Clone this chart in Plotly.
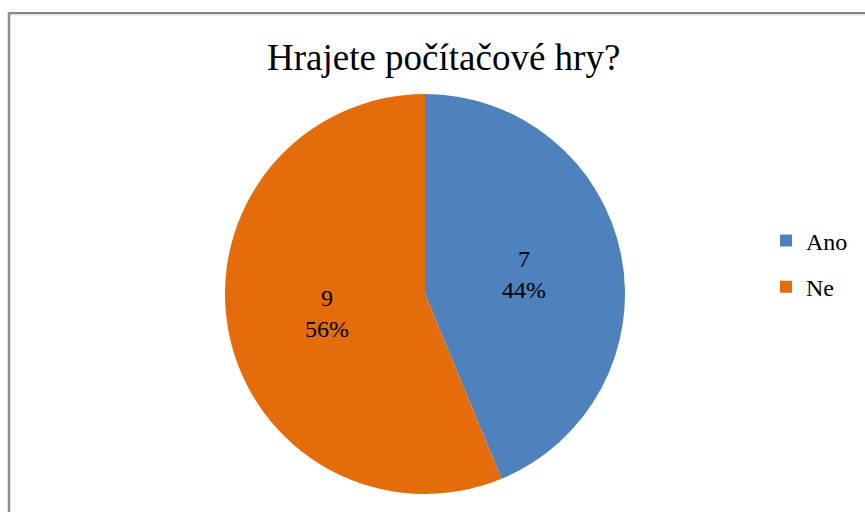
import plotly.graph_objects as go

# Survey answers: "Do you play computer games?"
labels = ["Ano", "Ne"]
counts = [7, 9]
colors = ["#4F81BD", "#E46C0A"]
title_text = "Hrajete počítačové hry?"

W, H = 865, 512
SERIF = "Liberation Serif"

fig = go.Figure()

fig.add_trace(go.Pie(
    labels=labels,
    values=counts,
    sort=False,
    direction="clockwise",
    rotation=0,
    marker=dict(colors=colors, line=dict(width=0)),
    texttemplate="%{value}<br>%{percent:.0%}",
    textposition="inside",
    insidetextorientation="horizontal",
    textfont=dict(family=SERIF, size=24, color="#000000"),
    showlegend=False,
    hoverinfo="label+value+percent",
    domain=dict(x=[225 / W, 625 / W], y=[(H - 494) / H, (H - 94) / H]),
))

# Legend entries, one group each so the spacing can be set
for name, col in zip(labels, colors):
    fig.add_trace(go.Scatter(
        x=[None], y=[None], mode="markers", name=name, legendgroup=name,
        marker=dict(symbol="square", size=13, color=col),
        showlegend=True, hoverinfo="skip",
    ))

fig.add_annotation(
    text=title_text, xref="paper", yref="paper",
    x=444 / W, y=1 - 57 / H, xanchor="center", yanchor="middle",
    showarrow=False, font=dict(family=SERIF, size=37, color="#000000"),
)

fig.update_layout(
    width=W, height=H,
    margin=dict(l=0, r=0, t=0, b=0),
    paper_bgcolor="#ffffff",
    plot_bgcolor="rgba(0,0,0,0)",
    font=dict(family=SERIF, color="#000000"),
    xaxis=dict(visible=False),
    yaxis=dict(visible=False),
    legend=dict(
        x=766 / W, xanchor="left",
        y=1 - 264 / H, yanchor="middle",
        font=dict(family=SERIF, size=24, color="#000000"),
        bgcolor="rgba(0,0,0,0)",
        tracegroupgap=12,
        itemsizing="constant",
    ),
    shapes=[
        # chart-area frame (runs off the right and bottom edges)
        dict(type="line", xref="paper", yref="paper",
             x0=9 / W, x1=1.02, y0=1 - 13 / H, y1=1 - 13 / H,
             line=dict(color="#868686", width=2)),
        dict(type="line", xref="paper", yref="paper",
             x0=10 / W, x1=1.02, y0=1 - 14.8 / H, y1=1 - 14.8 / H,
             line=dict(color="#d4d4d4", width=1)),
        dict(type="line", xref="paper", yref="paper",
             x0=9 / W, x1=9 / W, y0=-0.02, y1=1 - 12 / H,
             line=dict(color="#909090", width=2.5)),
    ],
)

fig.write_html("out.html")
